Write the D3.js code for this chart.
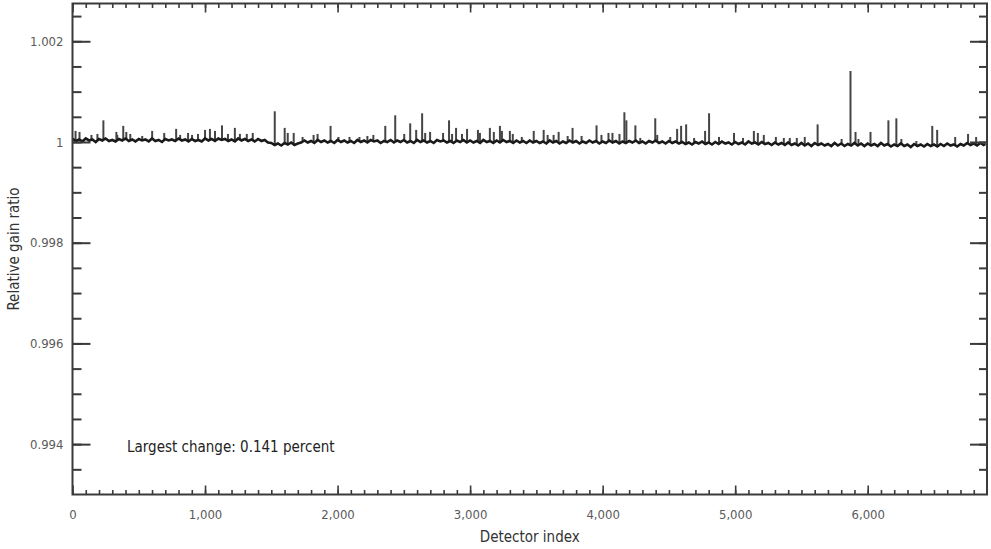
<!DOCTYPE html>
<html>
<head>
<meta charset="utf-8">
<script src="https://cdn.jsdelivr.net/npm/d3@7"></script>
<style>
  html, body { margin: 0; padding: 0; background: #fff; }
  svg { display: block; }
  .lbl { font-family: "Liberation Sans Narrow", "DejaVu Sans Condensed", "Roboto", sans-serif; font-stretch: condensed; }
</style>
</head>
<body>
<svg id="chart" width="991" height="549"></svg>
<script>
// ---------- DATA ----------
const xTickValues = [0, 1000, 2000, 3000, 4000, 5000, 6000];
const xTickLabels = ["0", "1,000", "2,000", "3,000", "4,000", "5,000", "6,000"];
const yTickValues = [0.994, 0.996, 0.998, 1, 1.002];
const yTickLabels = ["0.994", "0.996", "0.998", "1", "1.002"];
const xDomain = [0, 6900];
const yDomain = [0.993, 1.00275];

// baseline relative gain ratio, sampled every 25 detectors (last sample at 6888)
const baseStep = 25;
const baseline = [
  1.00006, 1.00002, 1.00005, 1.00001, 1.00007, 1.00003, 1.00005, 1.00000, 1.00006, 1.00003, 1.00007, 1.00002, 1.00004, 1.00001, 1.00006, 1.00003, 1.00007, 1.00002, 1.00005, 1.00001,
  1.00006, 1.00003, 1.00005, 1.00001, 1.00007, 1.00002, 1.00004, 1.00000, 1.00006, 1.00003, 1.00005, 1.00002, 1.00007, 1.00003, 1.00005, 1.00001, 1.00006, 1.00002, 1.00004, 1.00001,
  1.00007, 1.00003, 1.00006, 1.00002, 1.00007, 1.00004, 1.00006, 1.00002, 1.00005, 1.00001, 1.00007, 1.00003, 1.00006, 1.00002, 1.00005, 1.00001, 1.00006, 1.00002, 1.00004, 0.99999,
  0.99998, 0.99994, 0.99997, 0.99993, 0.99998, 0.99995, 0.99999, 0.99994, 0.99997, 0.99999, 1.00003, 0.99999, 1.00002, 0.99998, 1.00004, 1.00000, 1.00003, 0.99999, 1.00002, 0.99998,
  1.00004, 1.00000, 1.00003, 0.99999, 1.00002, 0.99998, 1.00004, 1.00000, 1.00003, 0.99999, 1.00004, 1.00001, 1.00003, 0.99998, 1.00002, 1.00000, 1.00004, 0.99999, 1.00003, 1.00000,
  1.00004, 0.99999, 1.00002, 0.99998, 1.00004, 1.00000, 1.00003, 0.99999, 1.00002, 0.99998, 1.00004, 1.00001, 1.00003, 0.99999, 1.00002, 0.99998, 1.00003, 1.00000, 1.00004, 0.99999,
  1.00003, 0.99999, 1.00002, 0.99998, 1.00004, 1.00000, 1.00002, 0.99998, 1.00003, 0.99999, 1.00004, 1.00000, 1.00002, 0.99998, 1.00003, 0.99999, 1.00002, 0.99998, 1.00003, 0.99999,
  1.00002, 0.99998, 1.00001, 0.99997, 1.00003, 0.99999, 1.00002, 0.99997, 1.00001, 0.99998, 1.00003, 0.99999, 1.00002, 0.99997, 1.00001, 0.99998, 1.00003, 0.99999, 1.00002, 0.99997,
  1.00001, 0.99998, 1.00003, 0.99999, 1.00002, 0.99997, 1.00001, 0.99998, 1.00002, 0.99999, 1.00003, 0.99998, 1.00001, 0.99997, 1.00002, 0.99999, 1.00003, 0.99998, 1.00001, 0.99997,
  1.00002, 0.99998, 1.00001, 0.99997, 1.00000, 0.99996, 0.99999, 0.99995, 1.00000, 0.99997, 1.00001, 0.99996, 0.99999, 0.99995, 1.00000, 0.99996, 1.00001, 0.99997, 0.99999, 0.99995,
  1.00000, 0.99996, 0.99999, 0.99995, 1.00001, 0.99997, 0.99999, 0.99995, 1.00000, 0.99996, 0.99998, 0.99994, 0.99999, 0.99995, 0.99998, 0.99994, 0.99999, 0.99994, 0.99997, 0.99993,
  0.99998, 0.99993, 0.99997, 0.99992, 0.99998, 0.99994, 0.99997, 0.99993, 0.99996, 0.99992, 0.99998, 0.99993, 0.99997, 0.99992, 0.99996, 0.99993, 0.99998, 0.99993, 0.99997, 0.99992,
  0.99997, 0.99993, 0.99996, 0.99992, 0.99998, 0.99993, 0.99996, 0.99991, 0.99995, 0.99992, 0.99997, 0.99992, 0.99995, 0.99990, 0.99996, 0.99992, 0.99995, 0.99991, 0.99996, 0.99992,
  0.99995, 0.99991, 0.99996, 0.99992, 0.99997, 0.99993, 0.99995, 0.99991, 0.99996, 0.99993, 0.99998, 0.99994, 0.99997, 0.99993, 0.99998, 0.99994
];
const lastIndex = 6888;
const lastValue = 0.99996;

// isolated detector spikes: detector index and peak ratio
const spikeIndex = [
  23, 53, 143, 188, 233, 331, 338, 383, 406, 436, 526, 601, 692, 782, 812, 872, 902, 947, 1000, 1037,
  1075, 1128, 1173, 1225, 1263, 1315, 1360, 1526, 1601, 1624, 1669, 1736, 1819, 1849, 1947, 2007,
  2090, 2165, 2225, 2270, 2360, 2435, 2503, 2548, 2593, 2638, 2661, 2698, 2796, 2841, 2864, 2894,
  2939, 2977, 3059, 3074, 3149, 3179, 3225, 3240, 3300, 3322, 3390, 3480, 3555, 3585, 3630, 3668,
  3736, 3773, 3841, 3954, 3991, 4044, 4074, 4127, 4164, 4179, 4247, 4284, 4397, 4412, 4510, 4562,
  4592, 4630, 4690, 4773, 4803, 4878, 4991, 5059, 5141, 5171, 5216, 5307, 5367, 5412, 5465, 5525,
  5622, 5803, 5870, 5908, 5930, 6021, 6156, 6216, 6254, 6367, 6487, 6524, 6660, 6757, 6818
];
const spikeValue = [
  1.00022, 1.00020, 1.00014, 1.00016, 1.00043, 1.00020, 1.00014, 1.00032, 1.00020, 1.00016,
  1.00012, 1.00022, 1.00018, 1.00026, 1.00014, 1.00018, 1.00014, 1.00016, 1.00024, 1.00026,
  1.00022, 1.00033, 1.00016, 1.00028, 1.00016, 1.00016, 1.00018, 1.00061, 1.00028, 1.00018,
  1.00018, 1.00010, 1.00014, 1.00016, 1.00032, 1.00010, 1.00010, 1.00010, 1.00012, 1.00014,
  1.00032, 1.00053, 1.00016, 1.00037, 1.00024, 1.00057, 1.00018, 1.00020, 1.00018, 1.00043,
  1.00016, 1.00028, 1.00016, 1.00026, 1.00024, 1.00018, 1.00028, 1.00020, 1.00032, 1.00022,
  1.00022, 1.00016, 1.00010, 1.00022, 1.00024, 1.00014, 1.00014, 1.00020, 1.00012, 1.00028,
  1.00012, 1.00033, 1.00014, 1.00018, 1.00018, 1.00016, 1.00059, 1.00043, 1.00033, 1.00008,
  1.00047, 1.00014, 1.00010, 1.00026, 1.00032, 1.00035, 1.00008, 1.00022, 1.00057, 1.00010,
  1.00018, 1.00008, 1.00022, 1.00018, 1.00014, 1.00010, 1.00008, 1.00008, 1.00008, 1.00010,
  1.00035, 1.00006, 1.00141, 1.00020, 1.00006, 1.00020, 1.00043, 1.00047, 1.00006, 1.00002,
  1.00032, 1.00024, 1.00010, 1.00016, 1.00010
];
const annotation = "Largest change: 0.141 percent";
const xTitle = "Detector index";
const yTitle = "Relative gain ratio";

// ---------- LAYOUT ----------
const svg = d3.select("#chart");
const L = 72.5, R = 987, T = 3.5, B = 494.5;
const x = d3.scaleLinear().domain(xDomain).range([L, R]);
const y = d3.scaleLinear().domain(yDomain).range([B, T]);
const frameColor = "#3a3a3a";

const basePts = baseline.map((v, i) => ({ i: i * baseStep, v }));
basePts.push({ i: lastIndex, v: lastValue });
const baseAt = d3.scaleLinear().domain(basePts.map(d => d.i)).range(basePts.map(d => d.v));

// spikes
const spikes = spikeIndex.map((d, k) => ({ i: d, v: spikeValue[k] }));
svg.append("g").selectAll("line").data(spikes).join("line")
  .attr("x1", d => x(d.i)).attr("x2", d => x(d.i))
  .attr("y1", d => y(baseAt(d.i))).attr("y2", d => y(d.v))
  .attr("stroke", "#454545").attr("stroke-width", 2);

// baseline
svg.append("path").datum(basePts)
  .attr("fill", "none").attr("stroke", "#1a1a1a").attr("stroke-width", 2.6)
  .attr("stroke-linejoin", "miter")
  .attr("d", d3.line().x(d => x(d.i)).y(d => y(d.v)));

// axes with ticks inward
const yMinor = d3.range(0.9935, 1.00275, 0.0005);
const xMinor = d3.range(0, 6900, 100);
// left axis
svg.append("g").attr("transform", `translate(${L},0)`)
  .call(d3.axisLeft(y).tickValues(yMinor).tickSize(-9).tickFormat(""))
  .call(g => g.select(".domain").remove())
  .call(g => g.selectAll("line").attr("stroke", frameColor).attr("stroke-width", 2));
svg.append("g").attr("transform", `translate(${L},0)`)
  .call(d3.axisLeft(y).tickValues(yTickValues).tickSize(-18).tickFormat((d, i) => yTickLabels[i]))
  .call(g => g.select(".domain").remove())
  .call(g => g.selectAll("line").attr("stroke", frameColor).attr("stroke-width", 2))
  .call(g => g.selectAll("text").attr("class", "lbl").attr("x", -9).attr("font-size", 13).attr("fill", "#5a5a5a").attr("font-family", null));
// right axis
svg.append("g").attr("transform", `translate(${R},0)`)
  .call(d3.axisRight(y).tickValues(yMinor).tickSize(-8).tickFormat(""))
  .call(g => g.select(".domain").remove())
  .call(g => g.selectAll("line").attr("stroke", frameColor).attr("stroke-width", 2));
svg.append("g").attr("transform", `translate(${R},0)`)
  .call(d3.axisRight(y).tickValues(yTickValues).tickSize(-17).tickFormat(""))
  .call(g => g.select(".domain").remove())
  .call(g => g.selectAll("line").attr("stroke", frameColor).attr("stroke-width", 2));
// bottom axis
svg.append("g").attr("transform", `translate(0,${B})`)
  .call(d3.axisBottom(x).tickValues(xMinor).tickSize(-4.5).tickFormat(""))
  .call(g => g.select(".domain").remove())
  .call(g => g.selectAll("line").attr("stroke", frameColor).attr("stroke-width", 1.6));
svg.append("g").attr("transform", `translate(0,${B})`)
  .call(d3.axisBottom(x).tickValues(xTickValues).tickSize(-9).tickFormat((d, i) => xTickLabels[i]))
  .call(g => g.select(".domain").remove())
  .call(g => g.selectAll("line").attr("stroke", frameColor).attr("stroke-width", 1.6))
  .call(g => g.selectAll("text").attr("class", "lbl").attr("y", 24).attr("dy", 0).attr("font-size", 13).attr("fill", "#5a5a5a").attr("font-family", null));
// top axis
svg.append("g").attr("transform", `translate(0,${T})`)
  .call(d3.axisTop(x).tickValues(xMinor).tickSize(-4.5).tickFormat(""))
  .call(g => g.select(".domain").remove())
  .call(g => g.selectAll("line").attr("stroke", frameColor).attr("stroke-width", 1.6));
svg.append("g").attr("transform", `translate(0,${T})`)
  .call(d3.axisTop(x).tickValues(xTickValues).tickSize(-9).tickFormat(""))
  .call(g => g.select(".domain").remove())
  .call(g => g.selectAll("line").attr("stroke", frameColor).attr("stroke-width", 1.6));

// frame
svg.append("rect").attr("x", L).attr("y", T).attr("width", R - L).attr("height", B - T)
  .attr("fill", "none").attr("stroke", frameColor).attr("stroke-width", 2);

// titles
svg.append("text").attr("class", "lbl").attr("x", (L + R) / 2).attr("y", 542)
  .attr("text-anchor", "middle").attr("font-size", 15).attr("fill", "#333").text(xTitle);
svg.append("text").attr("class", "lbl")
  .attr("transform", `translate(19,${(T + B) / 2}) rotate(-90)`)
  .attr("text-anchor", "middle").attr("font-size", 15).attr("fill", "#333").text(yTitle);

// annotation
svg.append("text").attr("class", "lbl").attr("x", 127).attr("y", 452)
  .attr("font-size", 15).attr("fill", "#222").text(annotation);
</script>
</body>
</html>
